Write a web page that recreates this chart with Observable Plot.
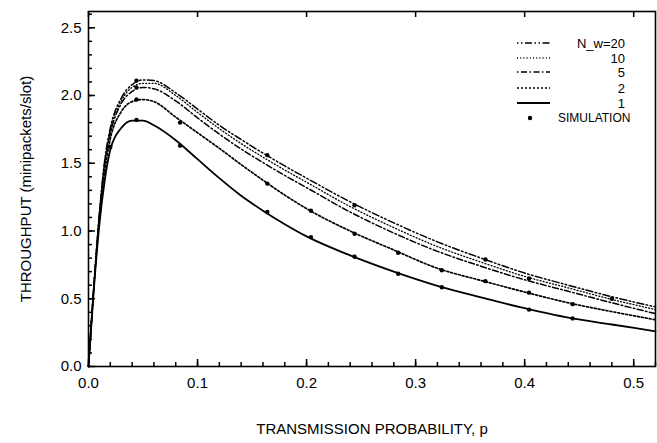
<!DOCTYPE html>
<html><head><meta charset="utf-8">
<script src="https://cdn.jsdelivr.net/npm/d3@7"></script>
<script src="https://cdn.jsdelivr.net/npm/@observablehq/plot@0.6"></script>
<style>body{margin:0;background:#fff}</style>
</head><body><div id="chart"></div>
<script>
const pValues = [0, 0.005, 0.01, 0.015, 0.02, 0.03, 0.04, 0.05, 0.06, 0.08, 0.1, 0.12, 0.14, 0.16, 0.18, 0.2, 0.24, 0.28, 0.32, 0.36, 0.4, 0.44, 0.48, 0.52];
const n1  = [0, 0.58, 1.05, 1.38, 1.60, 1.76, 1.815, 1.815, 1.78, 1.67, 1.53, 1.39, 1.26, 1.15, 1.05, 0.96, 0.82, 0.70, 0.595, 0.51, 0.43, 0.36, 0.31, 0.26];
const n2  = [0, 0.6, 1.1, 1.45, 1.68, 1.88, 1.955, 1.97, 1.955, 1.84, 1.725, 1.61, 1.49, 1.375, 1.265, 1.165, 1.0, 0.86, 0.725, 0.635, 0.55, 0.47, 0.405, 0.345];
const n5  = [0, 0.6, 1.12, 1.5, 1.72, 1.94, 2.03, 2.06, 2.05, 1.96, 1.835, 1.715, 1.605, 1.505, 1.41, 1.32, 1.14, 0.985, 0.85, 0.74, 0.64, 0.555, 0.47, 0.39];
const n10 = [0, 0.6, 1.13, 1.52, 1.74, 1.96, 2.06, 2.09, 2.09, 2.0, 1.875, 1.755, 1.645, 1.545, 1.45, 1.36, 1.18, 1.025, 0.885, 0.77, 0.665, 0.58, 0.495, 0.42];
const n20 = [0, 0.6, 1.13, 1.53, 1.76, 1.98, 2.08, 2.115, 2.11, 2.02, 1.90, 1.78, 1.675, 1.575, 1.48, 1.39, 1.215, 1.06, 0.92, 0.80, 0.69, 0.60, 0.515, 0.44];

const simP = [0.02, 0.044, 0.084, 0.164, 0.204, 0.244, 0.284, 0.324, 0.404, 0.444,
              0.044, 0.084, 0.164, 0.204, 0.244, 0.284, 0.324, 0.364, 0.404, 0.444,
              0.044, 0.044, 0.164, 0.244, 0.364, 0.404, 0.48];
const simT = [1.62, 1.82, 1.63, 1.14, 0.955, 0.81, 0.685, 0.585, 0.42, 0.355,
              1.97, 1.80, 1.35, 1.15, 0.98, 0.84, 0.71, 0.63, 0.545, 0.46,
              2.11, 2.06, 1.56, 1.19, 0.79, 0.65, 0.50];

const seriesNames = ["N_w=20", "10", "5", "2", "1"];
const xTicks = [0, 0.1, 0.2, 0.3, 0.4, 0.5];
const yTicks = [0, 0.5, 1.0, 1.5, 2.0, 2.5];
const xMinor = d3.range(0.02, 0.521, 0.02);
const yMinor = d3.range(0.1, 2.61, 0.1);

const curves = [n20, n10, n5, n2, n1];
const styles = [
  {dash: "1.5,2.5,1.5,2.5,7,2.5", w: 1.5},
  {dash: "1,2.2", w: 1.3},
  {dash: "1.5,2.5,6,2.5", w: 1.5},
  {dash: "2,2", w: 1.7},
  {dash: null, w: 1.8}
];
const data = curves.flatMap((c, i) => c.map((v, j) => ({p: pValues[j], t: v, s: seriesNames[i]})));
const sims = simP.map((p, i) => ({p, t: simT[i]}));

const W = 657, H = 443, mL = 88, mR = 2, mT = 11, mB = 77;
const fw = W - mL - mR, fh = H - mT - mB;

const font = "'Liberation Sans', Arial, sans-serif";
const chart = Plot.plot({
  width: W, height: H,
  marginLeft: mL, marginRight: mR, marginTop: mT, marginBottom: mB,
  style: {fontFamily: font, background: "white", color: "black"},
  x: {domain: [0, 0.52]},
  y: {domain: [0, 2.62]},
  marks: [
    Plot.frame({stroke: "black", strokeWidth: 1.6}),
    // inward ticks (short rules via insets)
    Plot.ruleX(xMinor, {x: d => d, insetTop: fh - 4, stroke: "black", strokeWidth: 1.5}),
    Plot.ruleX(xTicks, {x: d => d, insetTop: fh - 7, stroke: "black", strokeWidth: 1.5}),
    Plot.ruleX(xTicks, {x: d => d, insetBottom: fh - 6, stroke: "black", strokeWidth: 1.5}),
    Plot.ruleY(yMinor, {y: d => d, insetRight: fw - 4, stroke: "black", strokeWidth: 1.5}),
    Plot.ruleY(yTicks, {y: d => d, insetRight: fw - 7, stroke: "black", strokeWidth: 1.5}),
    // labels
    Plot.axisX(xTicks, {tickSize: 0, tickPadding: 11, tickFormat: d3.format(".1f"), fontSize: 15,
      label: "TRANSMISSION PROBABILITY, p", labelAnchor: "center", labelOffset: 67, labelArrow: "none"}),
    Plot.axisY(yTicks, {tickSize: 0, tickPadding: 7, tickFormat: d3.format(".1f"), fontSize: 15,
      label: "THROUGHPUT (minipackets/slot)", labelAnchor: "center", labelOffset: 68, labelArrow: "none"}),
    ...seriesNames.map((name, i) => Plot.line(data.filter(d => d.s === name), {
      x: "p", y: "t", curve: "monotone-x", stroke: "black",
      strokeWidth: styles[i].w, strokeDasharray: styles[i].dash
    })),
    Plot.dot(sims, {x: "p", y: "t", r: 2.2, fill: "black"})
  ]
});
document.getElementById("chart").append(chart);

// legend inside the plot, top right
const svg = d3.select(chart);
const lg = svg.append("g").attr("font-family", font).attr("font-size", 13).attr("fill", "black");
const rowsY = [43, 58, 72, 88, 103];
seriesNames.forEach((name, i) => {
  const line = lg.append("line").attr("x1", 517).attr("x2", 550).attr("y1", rowsY[i]).attr("y2", rowsY[i])
    .attr("stroke", "black").attr("stroke-width", styles[i].w);
  if (styles[i].dash) line.attr("stroke-dasharray", styles[i].dash);
  lg.append("text").attr("x", 625).attr("y", rowsY[i]).attr("dy", "0.35em")
    .attr("text-anchor", "end").text(name);
});
lg.append("circle").attr("cx", 530).attr("cy", 118).attr("r", 2.2).attr("fill", "black");
lg.append("text").attr("x", 558).attr("y", 118).attr("dy", "0.35em").attr("text-anchor", "start")
  .attr("font-size", 12).text("SIMULATION");
</script></body></html>
